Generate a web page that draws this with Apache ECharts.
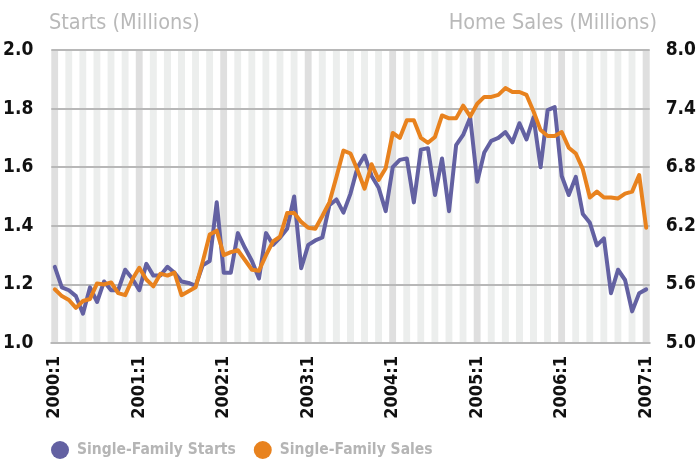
<!DOCTYPE html>
<html>
<head>
<meta charset="utf-8">
<script src="https://cdn.jsdelivr.net/npm/echarts@6/dist/echarts.min.js"></script>
<style>
html,body{margin:0;padding:0;background:#fff;}
#chart{width:699px;height:462px;}
</style>
</head>
<body>
<div id="chart"></div>
<script>
// ---- data ----
const years = [2000, 2001, 2002, 2003, 2004, 2005, 2006, 2007];
const tickLabels = ['2000:1','2001:1','2002:1','2003:1','2004:1','2005:1','2006:1','2007:1'];
const categories = [];
years.forEach(function (y) {
  for (let m = 1; m <= 12; m++) {
    if (y === 2007 && m > 1) break;
    categories.push(y + ':' + m);
  }
});

// Single-family starts (millions, left axis)
const startsValues = [
  1.26, 1.19, 1.18, 1.16, 1.10, 1.19, 1.14, 1.21, 1.18, 1.18, 1.25, 1.22,
  1.18, 1.27, 1.23, 1.23, 1.26, 1.24, 1.21, 1.205, 1.195, 1.265, 1.28, 1.48,
  1.24, 1.24, 1.375, 1.325, 1.28, 1.22, 1.375, 1.335, 1.36, 1.39, 1.50, 1.255,
  1.335, 1.35, 1.36, 1.47, 1.49, 1.445, 1.51, 1.60, 1.64, 1.57, 1.53, 1.45,
  1.60, 1.625, 1.63, 1.48, 1.66, 1.665, 1.505, 1.63, 1.45, 1.675, 1.71, 1.77,
  1.55, 1.65, 1.69, 1.70, 1.72, 1.685, 1.75, 1.695, 1.77, 1.60, 1.795, 1.805,
  1.57, 1.505, 1.567, 1.44, 1.41, 1.333, 1.357, 1.17, 1.25, 1.215, 1.108, 1.17,
  1.183
];

// Single-family home sales (millions, right axis)
const salesValues = [
  5.55, 5.48, 5.44, 5.36, 5.43, 5.45, 5.61, 5.60, 5.62, 5.51, 5.49, 5.65,
  5.77, 5.65, 5.58, 5.71, 5.69, 5.72, 5.49, 5.53, 5.57, 5.83, 6.11, 6.15,
  5.90, 5.93, 5.95, 5.85, 5.75, 5.74, 5.90, 6.04, 6.09, 6.33, 6.33, 6.24,
  6.18, 6.17, 6.30, 6.44, 6.70, 6.97, 6.94, 6.77, 6.58, 6.83, 6.67, 6.79,
  7.15, 7.10, 7.28, 7.28, 7.10, 7.05, 7.11, 7.33, 7.30, 7.30, 7.43, 7.32,
  7.45, 7.52, 7.52, 7.54, 7.61, 7.57, 7.57, 7.54, 7.37, 7.18, 7.12, 7.12,
  7.16, 7.00, 6.94, 6.78, 6.49, 6.55, 6.49, 6.49, 6.48, 6.53, 6.55, 6.72,
  6.18
];

const leftTicks = [1.0, 1.2, 1.4, 1.6, 1.8, 2.0];
const rightTicks = [5.0, 5.6, 6.2, 6.8, 7.4, 8.0];
const seriesNames = ['Single-Family Starts', 'Single-Family Sales'];
const axisTitles = ['Starts (Millions)', 'Home Sales (Millions)'];

// ---- chart ----
const FONT = "'DejaVu Sans Condensed', 'DejaVu Sans', sans-serif";
const STRETCH = 'condensed';
const chart = echarts.init(document.getElementById('chart'), null, {renderer: 'canvas'});

const stripeColors = ['#dfdfdf', '#ffffff', '#eceeed', '#ffffff', '#eceeed', '#ffffff',
                      '#eceeed', '#ffffff', '#eceeed', '#ffffff', '#eceeed', '#ffffff'];

chart.setOption({
  animation: false,
  backgroundColor: '#ffffff',
  textStyle: {fontFamily: FONT},
  title: [
    {text: axisTitles[0], left: 44, top: 7,
     textStyle: {fontFamily: FONT, fontStyle: STRETCH, fontSize: 21.5, fontWeight: 'normal', color: '#b9b9b9'}},
    {text: axisTitles[1], right: 37, top: 7,
     textStyle: {fontFamily: FONT, fontStyle: STRETCH, fontSize: 21.5, fontWeight: 'normal', color: '#b9b9b9'}}
  ],
  legend: {
    data: seriesNames,
    left: 51, top: 441, padding: 0,
    icon: 'circle',
    itemWidth: 18, itemHeight: 18, itemGap: 18,
    textStyle: {fontFamily: FONT, fontStyle: STRETCH, fontSize: 15.5, fontWeight: 'bold', color: '#b5b5b5',
                padding: [0, 0, 0, 3]}
  },
  grid: {left: 48, right: 42, top: 50, bottom: 119, containLabel: false},
  xAxis: {
    type: 'category',
    data: categories,
    boundaryGap: true,
    z: 0,
    axisLine: {show: true, lineStyle: {color: '#b8b8b8', width: 2}},
    axisTick: {show: false},
    axisLabel: {
      interval: 11, rotate: 90, margin: 13,
      fontFamily: FONT, fontStyle: STRETCH, fontSize: 18, fontWeight: 'bold', color: '#111',
      formatter: function (v) { return tickLabels.indexOf(v) >= 0 ? v : ''; }
    },
    splitLine: {show: false},
    splitArea: {show: true, interval: 0, areaStyle: {color: stripeColors}}
  },
  yAxis: [
    {
      type: 'value', min: leftTicks[0], max: leftTicks[leftTicks.length - 1], interval: 0.2,
      z: 1,
      axisLine: {show: false}, axisTick: {show: false},
      axisLabel: {margin: 18, fontFamily: FONT, fontStyle: STRETCH, fontSize: 19, fontWeight: 'bold', color: '#111',
                  formatter: function (v) { return v.toFixed(1); }},
      splitLine: {show: true, lineStyle: {color: '#b8b8b8', width: 2}}
    },
    {
      type: 'value', min: rightTicks[0], max: rightTicks[rightTicks.length - 1], interval: 0.6,
      z: 1,
      axisLine: {show: false}, axisTick: {show: false},
      axisLabel: {margin: 16, fontFamily: FONT, fontStyle: STRETCH, fontSize: 19, fontWeight: 'bold', color: '#111',
                  formatter: function (v) { return v.toFixed(1); }},
      splitLine: {show: false}
    }
  ],
  series: [
    {
      name: seriesNames[0], type: 'line', yAxisIndex: 0, data: startsValues,
      symbol: 'none', smooth: false,
      itemStyle: {color: '#6361a2'},
      lineStyle: {color: '#6361a2', width: 4, join: 'round', cap: 'round'},
      z: 3
    },
    {
      name: seriesNames[1], type: 'line', yAxisIndex: 1, data: salesValues,
      symbol: 'none', smooth: false,
      itemStyle: {color: '#e8821e'},
      lineStyle: {color: '#e8821e', width: 4, join: 'round', cap: 'round'},
      z: 4
    }
  ]
});
</script>
</body>
</html>
